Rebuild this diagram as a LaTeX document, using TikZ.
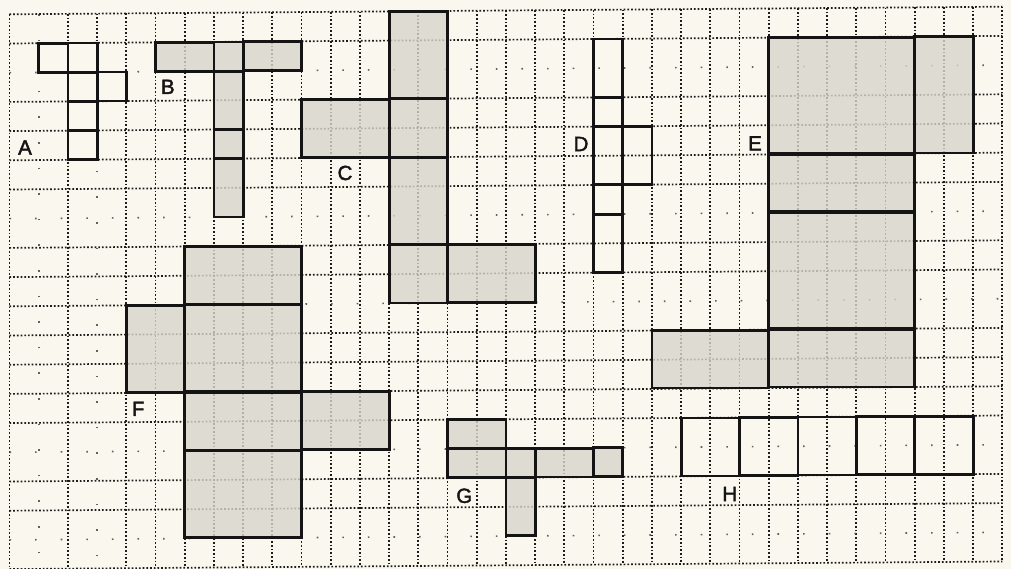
\documentclass[tikz,border=0pt]{standalone}
\usepackage{fontspec}
\setmainfont{Liberation Sans}
\newfontfamily\labfont{Liberation Sans}[FakeBold=2]
\definecolor{paper}{RGB}{250,247,238}
\definecolor{shade}{RGB}{216,213,205}
\definecolor{gridc}{RGB}{28,28,28}
\definecolor{ink}{RGB}{20,20,20}
\tikzset{
  gridline/.style={draw=gridc, line width=1.7pt, dash pattern=on 1.7pt off 2.0pt},
  sparseline/.style={draw=gridc!70, line width=1.6pt, dash pattern=on 1.6pt off 24pt},
  facefill/.style={fill=shade, fill opacity=0.8},
  faceline/.style={draw=ink, line width=2.8pt, line join=miter},
  lab/.style={inner sep=0pt, text=ink, font=\labfont\fontsize{20.5}{24}\selectfont}
}
\begin{document}
\begin{tikzpicture}[x=1pt,y=1pt]
\fill[paper] (0,0) rectangle (1011,-569);
\useasboundingbox (0,0) rectangle (1011,-569);
\begin{scope}[shift={(9.5pt,-14.3pt)}, x={(29.2pt,0.2235pt)}, y={(0pt,-29.2pt)}]
  % grid: vertical lines
  \foreach \i in {0,2,4,5,6,...,34} { \draw[gridline] (\i,0) -- (\i,19); }
  \draw[sparseline] (1,0) -- (1,19);
  \draw[gridline] (3,0) -- (3,1);
  \draw[sparseline] (3,1) -- (3,19);
  % grid: horizontal lines
  \foreach \j in {0,1,3,4,5,6,8,9,11,12,13,14,16,17,19} { \draw[gridline] (0,\j) -- (34,\j); }
  \foreach \j in {2,7,15,18} { \draw[sparseline] (0,\j) -- (34,\j); }
  \draw[gridline] (0,10) -- (4,10);
  \draw[sparseline] (4,10) -- (34,10);
  % shaded faces (B, C, E, F, G)
  \foreach \a/\b/\c/\d in {
    5/1/7/2, 7/1/8/2, 8/1/10/2, 7/2/8/4, 7/4/8/5, 7/5/8/7,
    13/0/15/3, 10/3/13/5, 13/3/15/5, 13/5/15/8, 13/8/15/10, 15/8/18/10,
    26/1/31/5, 31/1/33/5, 26/5/31/7, 26/7/31/11, 22/11/26/13, 26/11/31/13,
    6/8/10/10, 4/10/6/13, 6/10/10/13, 6/13/10/15, 10/13/13/15, 6/15/10/18,
    15/14/17/15, 15/15/17/16, 17/15/18/16, 18/15/20/16, 20/15/21/16, 17/16/18/18}
    { \fill[facefill] (\a,\b) rectangle (\c,\d); }
  % outlines of all faces
  \foreach \a/\b/\c/\d in {
    1/1/2/2, 2/1/3/2, 2/2/3/3, 3/2/4/3, 2/3/3/4, 2/4/3/5,
    5/1/7/2, 7/1/8/2, 8/1/10/2, 7/2/8/4, 7/4/8/5, 7/5/8/7,
    13/0/15/3, 10/3/13/5, 13/3/15/5, 13/5/15/8, 13/8/15/10, 15/8/18/10,
    20/1/21/3, 20/3/21/4, 20/4/21/6, 21/4/22/6, 20/6/21/7, 20/7/21/9,
    26/1/31/5, 31/1/33/5, 26/5/31/7, 26/7/31/11, 22/11/26/13, 26/11/31/13,
    6/8/10/10, 4/10/6/13, 6/10/10/13, 6/13/10/15, 10/13/13/15, 6/15/10/18,
    15/14/17/15, 15/15/17/16, 17/15/18/16, 18/15/20/16, 20/15/21/16, 17/16/18/18,
    23/14/25/16, 25/14/27/16, 27/14/29/16, 29/14/31/16, 31/14/33/16}
    { \draw[faceline] (\a,\b) rectangle (\c,\d); }
\end{scope}
% labels
\node[lab] (labA) at (25,-147.5) {A};
\node[lab] (labB) at (167.8,-86.8) {B};
\node[lab] (labC) at (345,-173) {C};
\node[lab] (labD) at (581,-144) {D};
\node[lab] (labE) at (755,-143.3) {E};
\node[lab] (labF) at (138.3,-408.8) {F};
\node[lab] (labG) at (464.3,-495.8) {G};
\node[lab] (labH) at (729.7,-494) {H};
\end{tikzpicture}
\end{document}
